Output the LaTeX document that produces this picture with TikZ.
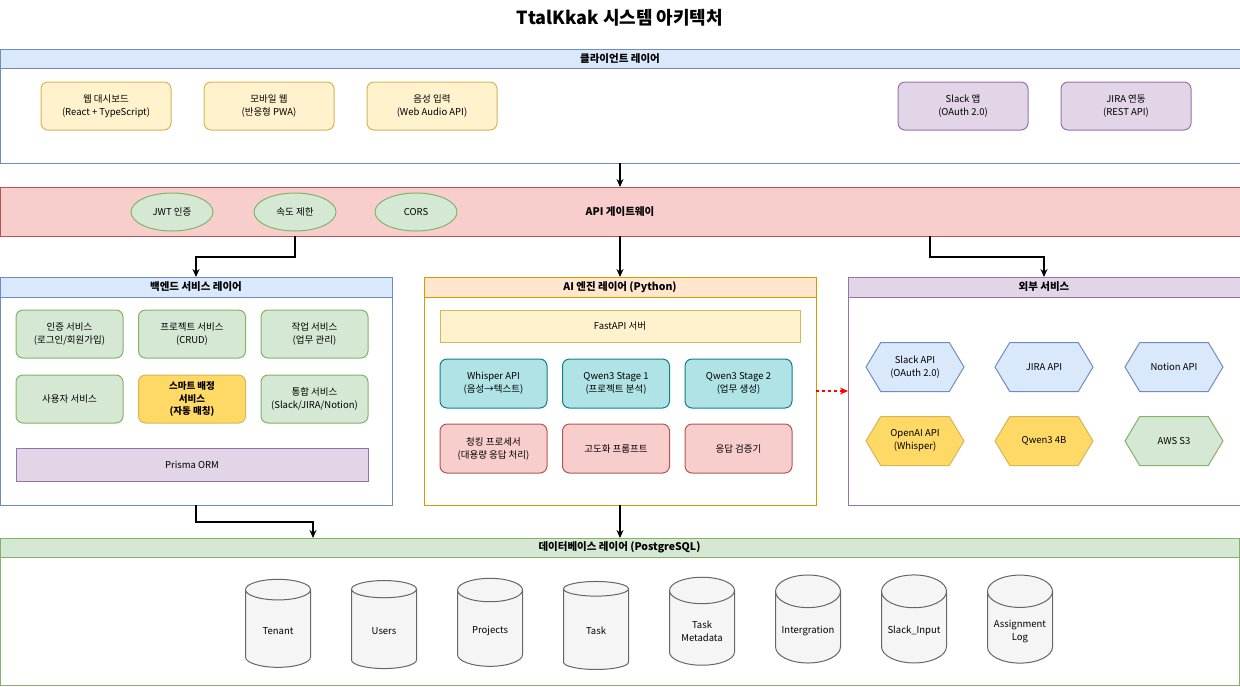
\documentclass[tikz,border=0pt]{standalone}
\usepackage{fontspec}
\setmainfont{Noto Sans CJK KR}
\usetikzlibrary{shapes.geometric,shapes.symbols,arrows.meta}

\definecolor{blueF}{HTML}{DAE8FC}\definecolor{blueD}{HTML}{6C8EBF}
\definecolor{greenF}{HTML}{D5E8D4}\definecolor{greenD}{HTML}{82B366}
\definecolor{yellowF}{HTML}{FFF2CC}\definecolor{yellowD}{HTML}{D6B656}
\definecolor{goldF}{HTML}{FFD966}
\definecolor{purpleF}{HTML}{E1D5E7}\definecolor{purpleD}{HTML}{9673A6}
\definecolor{redF}{HTML}{F8CECC}\definecolor{redD}{HTML}{B85450}
\definecolor{orangeF}{HTML}{FFE6CC}\definecolor{orangeD}{HTML}{D79B00}
\definecolor{tealF}{HTML}{B0E3E6}\definecolor{tealD}{HTML}{0E8088}
\definecolor{grayF}{HTML}{F5F5F5}\definecolor{grayD}{HTML}{666666}

\tikzset{
  txt/.style={font=\fontsize{9.5}{13}\selectfont, align=center},
  layer/.style={draw, line width=1pt, outer sep=0pt, anchor=north west},
  band/.style={draw, line width=1pt, outer sep=0pt, anchor=north west,
    font=\bfseries\fontsize{10.5}{12}\selectfont},
  card/.style={txt, draw, line width=1pt, rounded corners=7pt,
    minimum width=107, minimum height=48},
  plate/.style={txt, draw, line width=1pt},
  pill/.style={txt, ellipse, draw=greenD, fill=greenF, line width=1pt,
    minimum width=82, minimum height=38},
  hexa/.style={txt, signal, signal to=west and east, signal pointer angle=118,
    draw, line width=1pt, minimum width=98, minimum height=49, inner sep=0pt},
  drum/.style={txt, cylinder, shape border rotate=90, aspect=0.55,
    draw=grayD, fill=grayF, line width=1pt, minimum width=65, minimum height=88},
  link/.style={->, line width=1.2pt}
}

\begin{document}
\begin{tikzpicture}[x=1pt,y=-1pt,>={Stealth[length=8pt,width=7pt]}]
    \useasboundingbox (0,0) rectangle (1240,686);
    % Title
    \node[font=\bfseries\fontsize{18}{20}\selectfont] (title) at (620,18) {TtalKkak 시스템 아키텍처};

    % Client layer
    \node[layer, draw=blueD, minimum width=1240, minimum height=114] (client) at (0,49) {};
    \node[band, draw=blueD, fill=blueF, minimum width=1240, minimum height=19] (clientHead) at (0,49) {클라이언트 레이어};
    \node[card, draw=yellowD, fill=yellowF, minimum width=130] (web) at (106,106) {웹 대시보드\\(React + TypeScript)};
    \node[card, draw=yellowD, fill=yellowF, minimum width=130] (mobile) at (269,106) {모바일 웹\\(반응형 PWA)};
    \node[card, draw=yellowD, fill=yellowF, minimum width=130] (voice) at (432,106) {음성 입력\\(Web Audio API)};
    \node[card, draw=purpleD, fill=purpleF, minimum width=130] (slackApp) at (963,106) {Slack 앱\\(OAuth 2.0)};
    \node[card, draw=purpleD, fill=purpleF, minimum width=130] (jiraLink) at (1126,106) {JIRA 연동\\(REST API)};

    % API gateway
    \node[layer, draw=redD, fill=redF, minimum width=1240, minimum height=49,
          font=\bfseries\fontsize{10.5}{12}\selectfont] (gw) at (0,187) {API 게이트웨이};
    \node[pill] (jwt) at (172,212) {JWT 인증};
    \node[pill] (rate) at (295,212) {속도 제한};
    \node[pill] (cors) at (416,212) {CORS};
    \coordinate (gwRight) at (930,236);

    % Backend layer
    \node[layer, draw=blueD, minimum width=392, minimum height=228] (backend) at (0,277) {};
    \node[band, draw=blueD, fill=blueF, minimum width=392, minimum height=20] (backendHead) at (0,277) {백엔드 서비스 레이어};
    \node[card, draw=greenD, fill=greenF] (auth) at (69.5,334) {인증 서비스\\(로그인/회원가입)};
    \node[card, draw=greenD, fill=greenF] (project) at (192,334) {프로젝트 서비스\\(CRUD)};
    \node[card, draw=greenD, fill=greenF] (task) at (314.5,334) {작업 서비스\\(업무 관리)};
    \node[card, draw=greenD, fill=greenF] (user) at (69.5,399) {사용자 서비스};
    \node[card, draw=yellowD, fill=goldF, font=\bfseries\fontsize{9.5}{12.5}\selectfont] (smart) at (192,399) {스마트 배정\\서비스\\(자동 매칭)};
    \node[card, draw=greenD, fill=greenF] (integ) at (314.5,399) {통합 서비스\\(Slack/JIRA/Notion)};
    \node[plate, draw=purpleD, fill=purpleF, minimum width=352, minimum height=33] (prisma) at (192,464.5) {Prisma ORM};

    % AI engine layer
    \node[layer, draw=orangeD, minimum width=392, minimum height=228] (ai) at (424,277) {};
    \node[band, draw=orangeD, fill=orangeF, minimum width=392, minimum height=20] (aiHead) at (424,277) {AI 엔진 레이어 (Python)};
    \node[plate, draw=yellowD, fill=yellowF, minimum width=360, minimum height=32] (fastapi) at (620,326) {FastAPI 서버};
    \node[card, draw=tealD, fill=tealF, minimum height=49] (whisper) at (493.5,383.5) {Whisper API\\(음성→텍스트)};
    \node[card, draw=tealD, fill=tealF, minimum height=49] (stageOne) at (616,383.5) {Qwen3 Stage 1\\(프로젝트 분석)};
    \node[card, draw=tealD, fill=tealF, minimum height=49] (stageTwo) at (738.5,383.5) {Qwen3 Stage 2\\(업무 생성)};
    \node[card, draw=redD, fill=redF, minimum height=49] (chunk) at (493.5,448.5) {청킹 프로세서\\(대용량 응답 처리)};
    \node[card, draw=redD, fill=redF, minimum height=49] (prompt) at (616,448.5) {고도화 프롬프트};
    \node[card, draw=redD, fill=redF, minimum height=49] (check) at (738.5,448.5) {응답 검증기};
    \coordinate (aiOut) at (816,391);

    % External services
    \node[layer, draw=purpleD, minimum width=392, minimum height=228] (ext) at (848,277) {};
    \node[band, draw=purpleD, fill=purpleF, minimum width=392, minimum height=20] (extHead) at (848,277) {외부 서비스};
    \node[hexa, draw=blueD, fill=blueF] (slackApi) at (915,367) {Slack API\\(OAuth 2.0)};
    \node[hexa, draw=blueD, fill=blueF] (jiraApi) at (1044,367) {JIRA API};
    \node[hexa, draw=blueD, fill=blueF] (notionApi) at (1174,367) {Notion API};
    \node[hexa, draw=yellowD, fill=goldF] (openai) at (915,441) {OpenAI API\\(Whisper)};
    \node[hexa, draw=yellowD, fill=goldF] (qwen) at (1044,441) {Qwen3 4B};
    \node[hexa, draw=greenD, fill=greenF] (s3) at (1174,441) {AWS S3};

    % Database layer
    \node[layer, draw=greenD, minimum width=1239, minimum height=147] (db) at (0,538) {};
    \node[band, draw=greenD, fill=greenF, minimum width=1239, minimum height=19] (dbHead) at (0,538) {데이터베이스 레이어 (PostgreSQL)};
    \foreach \tbl [count=\i from 0] in {Tenant, Users, Projects, Task, {Task\\Metadata}, Intergration, Slack\_Input, {Assignment\\Log}} {
        \node[drum] (table\i) at (278+106*\i,631) {\tbl};
    }
    \coordinate (dbIn) at (313,538);

    % Connectors
    \draw[link] (client.south) -- (gw.north);
    \draw[link] (rate |- gw.south) -- ++(0,21) -| (backend.north);
    \draw[link] (gw.south) -- (ai.north);
    \draw[link] (gwRight) -- ++(0,21) -| (ext.north);
    \draw[link] (backend.south) -- ++(0,17) -| (dbIn);
    \draw[link] (ai.south) -- (db.north -| ai.south);
    \draw[link, red, dashed, line width=1.3pt] (aiOut) -- (ext.west |- aiOut);
\end{tikzpicture}
\end{document}
